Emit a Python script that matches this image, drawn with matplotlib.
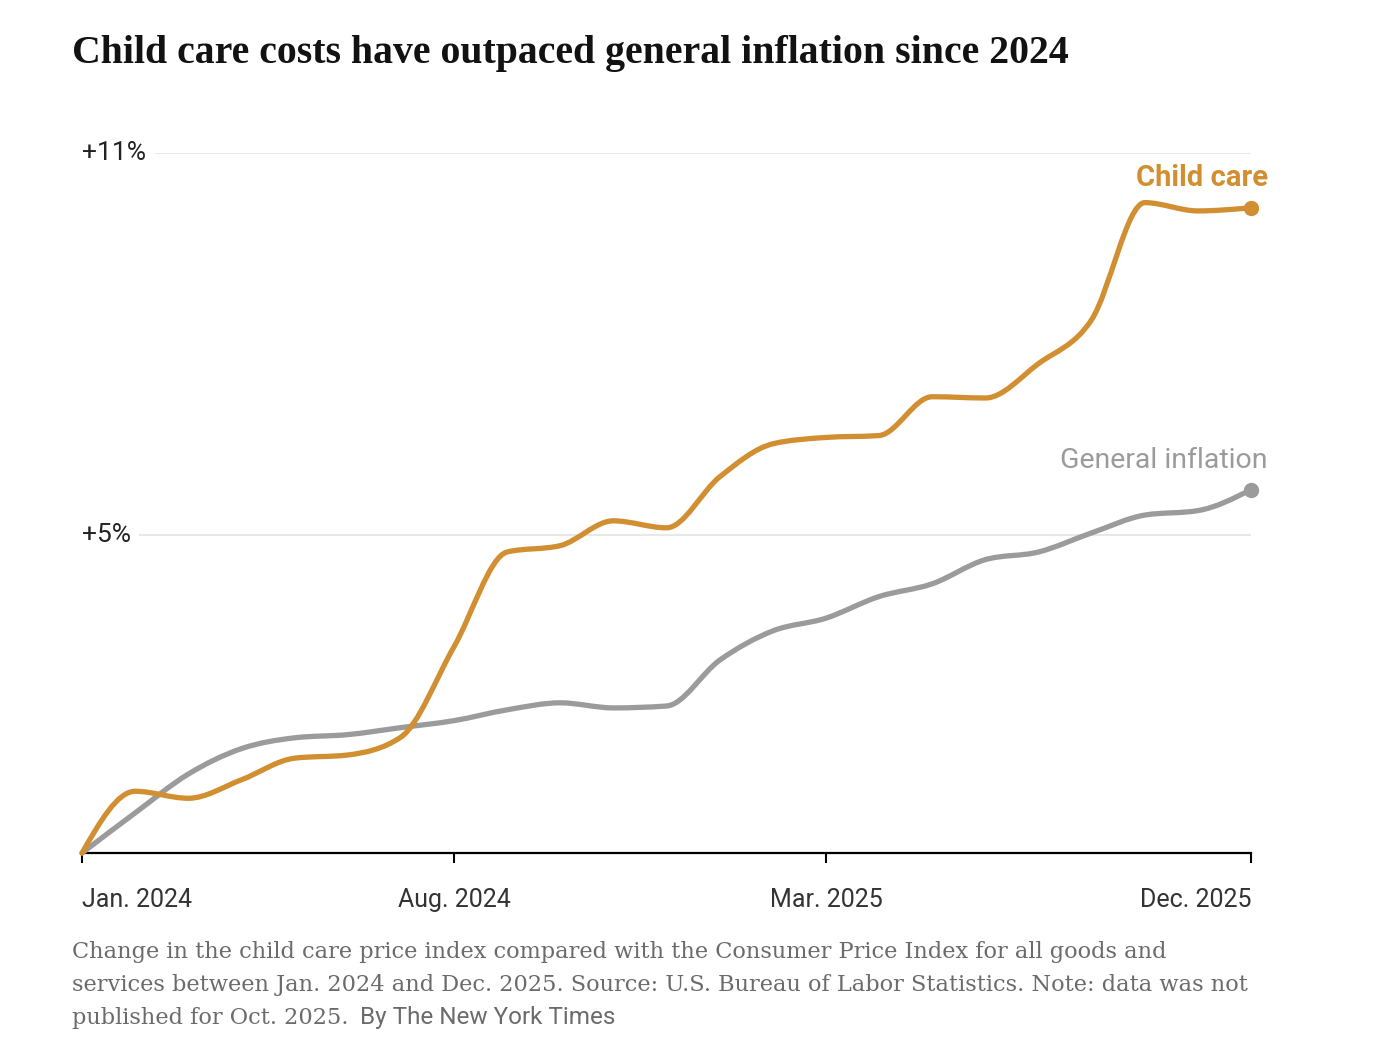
import numpy as np
import matplotlib
matplotlib.use('Agg')
import matplotlib.pyplot as plt
from matplotlib.path import Path
from matplotlib.patches import PathPatch

# monthly points, Oct. 2025 was not published so it is left out
months = ['2024-01', '2024-02', '2024-03', '2024-04', '2024-05', '2024-06',
          '2024-07', '2024-08', '2024-09', '2024-10', '2024-11', '2024-12',
          '2025-01', '2025-02', '2025-03', '2025-04', '2025-05', '2025-06',
          '2025-07', '2025-08', '2025-09', '2025-11', '2025-12']
child_care = [0.0, 0.97, 0.86, 1.15, 1.49, 1.54, 1.82, 3.24, 4.73, 4.83, 5.22, 5.11,
              5.91, 6.43, 6.53, 6.56, 7.17, 7.15, 7.69, 8.38, 10.22, 10.09, 10.14]
general = [0.0, 0.63, 1.24, 1.64, 1.81, 1.86, 1.97, 2.08, 2.25, 2.36, 2.28, 2.31,
           3.03, 3.49, 3.69, 4.03, 4.23, 4.61, 4.73, 5.03, 5.31, 5.38, 5.71]
tick_months = ['2024-01', '2024-08', '2025-03', '2025-12']
tick_labels = ['Jan. 2024', 'Aug. 2024', 'Mar. 2025', 'Dec. 2025']
y_ticks = [5, 11]
y_labels = ['+5%', '+11%']

ORANGE = '#d18f32'
GRAY = '#9b9b9b'
SANS = ['Roboto', 'DejaVu Sans']
SERIF = ['DejaVu Serif']


def monotone_path(xs, ys):
    # same idea as d3.curveMonotoneX: one cubic bezier per segment
    xs = np.asarray(xs, float)
    ys = np.asarray(ys, float)
    n = len(xs)
    t = np.zeros(n)
    for i in range(1, n - 1):
        h0 = xs[i] - xs[i - 1]
        h1 = xs[i + 1] - xs[i]
        s0 = (ys[i] - ys[i - 1]) / h0
        s1 = (ys[i + 1] - ys[i]) / h1
        p = (s0 * h1 + s1 * h0) / (h0 + h1)
        t[i] = (np.sign(s0) + np.sign(s1)) * min(abs(s0), abs(s1), 0.5 * abs(p))
    t[0] = (3 * (ys[1] - ys[0]) / (xs[1] - xs[0]) - t[1]) / 2
    t[-1] = (3 * (ys[-1] - ys[-2]) / (xs[-1] - xs[-2]) - t[-2]) / 2
    verts = [(xs[0], ys[0])]
    codes = [Path.MOVETO]
    for i in range(n - 1):
        dx = (xs[i + 1] - xs[i]) / 3
        verts += [(xs[i] + dx, ys[i] + dx * t[i]),
                  (xs[i + 1] - dx, ys[i + 1] - dx * t[i + 1]),
                  (xs[i + 1], ys[i + 1])]
        codes += [Path.CURVE4] * 3
    return Path(verts, codes)


W, H = 1378, 1062
fig = plt.figure(figsize=(W / 100, H / 100), dpi=100)
ax = fig.add_axes([82 / W, (H - 853) / H, (1251 - 82) / W, 700 / H])

x = np.arange(len(months))
ax.set_xlim(0, len(months) - 1)
ax.set_ylim(0, 11)

for s in ['top', 'right', 'left']:
    ax.spines[s].set_visible(False)
ax.spines['bottom'].set_linewidth(1.6)
ax.spines['bottom'].set_color('black')
ax.set_yticks([])

# gridlines with labels sitting on top of them
for v, lab in zip(y_ticks, y_labels):
    ax.axhline(v, color='#e8e8e8', lw=1.5, zorder=0)
    ax.text(0, v, lab, ha='left', va='center', fontsize=19, family=SANS, color='#222222',
            bbox=dict(facecolor='white', edgecolor='none', pad=6), zorder=1)

tpos = [months.index(m) for m in tick_months]
ax.set_xticks(tpos, tick_labels)
ax.tick_params(axis='x', length=7, width=1.5, color='black', pad=18,
               labelsize=18, labelcolor='#333333')
for lab in ax.get_xticklabels():
    lab.set_family(SANS)
labs = ax.get_xticklabels()
labs[0].set_ha('left')
labs[-1].set_ha('right')

for ys, col in [(general, GRAY), (child_care, ORANGE)]:
    patch = PathPatch(monotone_path(x, ys), facecolor='none', edgecolor=col, lw=3.8,
                      capstyle='round', joinstyle='round', clip_on=False, zorder=3)
    ax.add_patch(patch)
    ax.plot(x[-1], ys[-1], 'o', color=col, ms=10, clip_on=False, zorder=4)

ax.annotate('Child care', xy=(x[-1], child_care[-1]), xytext=(17, 30),
            textcoords='offset pixels', ha='right', va='center', fontsize=21,
            fontweight='bold', family=SANS, color=ORANGE)
ax.annotate('General inflation', xy=(x[-1], general[-1]), xytext=(17, 29),
            textcoords='offset pixels', ha='right', va='center', fontsize=20.5,
            family=SANS, color=GRAY)

fig.text(72 / W, 1 - 63 / H, 'Child care costs have outpaced general inflation since 2024',
         ha='left', va='baseline', fontsize=28.6, fontweight='bold',
         family=['Liberation Serif'], color='#121212')

cap_col = '#6b6b6b'
lines = ['Change in the child care price index compared with the Consumer Price Index for all goods and',
         'services between Jan. 2024 and Dec. 2025. Source: U.S. Bureau of Labor Statistics. Note: data was not',
         'published for Oct. 2025.']
for i, ln in enumerate(lines):
    t = fig.text(72 / W, 1 - (958 + 33 * i) / H, ln, ha='left', va='baseline',
                 fontsize=16.2, family=SERIF, color=cap_col)

fig.canvas.draw()
bb = t.get_window_extent()
fig.text((bb.x1 + 12) / W, 1 - 1024 / H, 'By The New York Times', ha='left', va='baseline',
         fontsize=17.5, family=SANS, color=cap_col)

fig.savefig('out.png', dpi=100)
